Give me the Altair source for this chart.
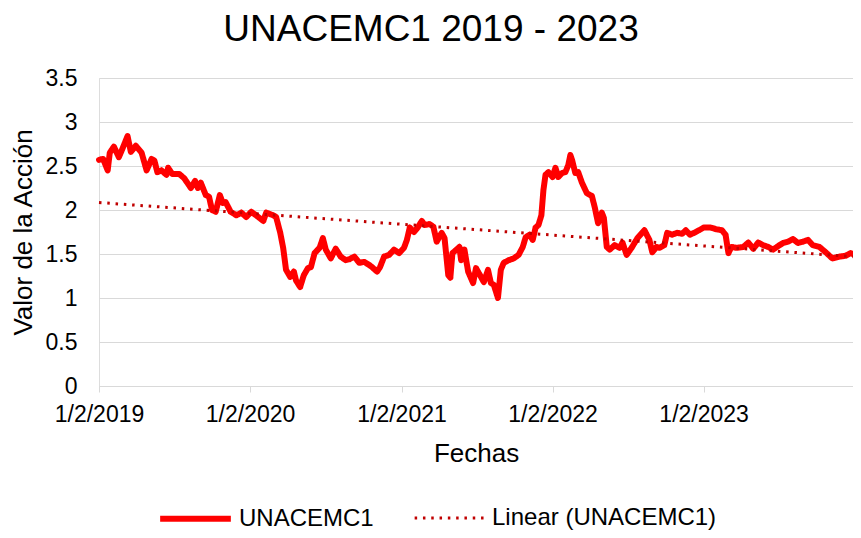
import altair as alt
import pandas as pd

fechas = [
    "2019-01-02", "2019-01-12", "2019-01-23", "2019-01-28", "2019-02-07", "2019-02-19",
    "2019-02-28", "2019-03-12", "2019-03-20", "2019-04-01", "2019-04-15", "2019-04-27",
    "2019-05-09", "2019-05-16", "2019-05-23", "2019-06-02", "2019-06-14", "2019-06-18",
    "2019-06-28", "2019-07-15", "2019-07-27", "2019-08-12", "2019-08-22", "2019-08-29",
    "2019-09-05", "2019-09-17", "2019-09-25", "2019-10-02", "2019-10-11", "2019-10-21",
    "2019-10-28", "2019-11-04", "2019-11-16", "2019-11-30", "2019-12-12", "2019-12-24",
    "2020-01-05", "2020-01-22", "2020-02-03", "2020-02-10", "2020-02-27", "2020-03-05",
    "2020-03-15", "2020-03-22", "2020-03-29", "2020-04-08", "2020-04-17", "2020-04-22",
    "2020-05-02", "2020-05-11", "2020-05-21", "2020-05-28", "2020-06-06", "2020-06-18",
    "2020-06-26", "2020-07-03", "2020-07-15", "2020-07-27", "2020-08-08", "2020-08-20",
    "2020-08-29", "2020-09-10", "2020-09-22", "2020-10-04", "2020-10-16", "2020-10-23",
    "2020-11-04", "2020-11-11", "2020-11-21", "2020-12-03", "2020-12-15", "2020-12-27",
    "2021-01-08", "2021-01-15", "2021-01-22", "2021-02-01", "2021-02-10", "2021-02-20",
    "2021-02-27", "2021-03-11", "2021-03-20", "2021-03-28", "2021-04-09", "2021-04-16",
    "2021-04-25", "2021-04-30", "2021-05-05", "2021-05-15", "2021-05-22", "2021-05-26",
    "2021-06-03", "2021-06-12", "2021-06-24", "2021-07-01", "2021-07-13", "2021-07-20",
    "2021-07-30", "2021-08-06", "2021-08-13", "2021-08-23", "2021-08-30", "2021-09-06",
    "2021-09-18", "2021-09-30", "2021-10-12", "2021-10-22", "2021-10-29", "2021-11-08",
    "2021-11-15", "2021-11-22", "2021-11-29", "2021-12-06", "2021-12-11", "2021-12-16",
    "2021-12-23", "2022-01-02", "2022-01-09", "2022-01-16", "2022-01-25", "2022-02-02",
    "2022-02-09", "2022-02-14", "2022-02-18", "2022-02-26", "2022-03-05", "2022-03-14",
    "2022-03-26", "2022-04-07", "2022-04-14", "2022-04-22", "2022-05-01", "2022-05-06",
    "2022-05-13", "2022-05-20", "2022-06-01", "2022-06-13", "2022-06-20", "2022-06-30",
    "2022-07-12", "2022-07-26", "2022-08-12", "2022-08-24", "2022-08-31", "2022-09-10",
    "2022-09-17", "2022-09-29", "2022-10-06", "2022-10-18", "2022-10-30", "2022-11-11",
    "2022-11-20", "2022-11-30", "2022-12-10", "2022-12-22", "2023-01-02", "2023-01-19",
    "2023-02-03", "2023-02-15", "2023-02-24", "2023-03-03", "2023-03-10", "2023-03-22",
    "2023-04-08", "2023-04-20", "2023-05-02", "2023-05-14", "2023-05-26", "2023-06-07",
    "2023-06-19", "2023-07-01", "2023-07-13", "2023-07-25", "2023-08-06", "2023-08-18",
    "2023-08-30", "2023-09-11", "2023-09-23", "2023-10-09", "2023-10-24", "2023-11-09",
    "2023-11-26", "2023-12-11", "2023-12-23", "2023-12-29",
]

valores = [
    2.57, 2.58, 2.45, 2.65, 2.72, 2.60,
    2.70, 2.84, 2.66, 2.73, 2.65, 2.45,
    2.58, 2.56, 2.43, 2.45, 2.40, 2.48,
    2.41, 2.41, 2.36, 2.25, 2.33, 2.25,
    2.31, 2.17, 2.15, 2.00, 1.98, 2.17,
    2.08, 2.09, 1.98, 1.94, 1.97, 1.92,
    1.98, 1.92, 1.875, 1.97, 1.94, 1.92,
    1.74, 1.57, 1.32, 1.24, 1.30, 1.20,
    1.125, 1.26, 1.34, 1.35, 1.51, 1.57,
    1.68, 1.55, 1.45, 1.56, 1.47, 1.43,
    1.44, 1.47, 1.40, 1.41, 1.375, 1.35,
    1.30, 1.35, 1.47, 1.49, 1.55, 1.51,
    1.57, 1.66, 1.80, 1.75, 1.80, 1.875,
    1.83, 1.84, 1.81, 1.64, 1.74, 1.68,
    1.26, 1.23, 1.51, 1.55, 1.58, 1.43,
    1.55, 1.30, 1.17, 1.34, 1.24, 1.18,
    1.32, 1.17, 1.15, 1.00, 1.32, 1.40,
    1.43, 1.45, 1.49, 1.58, 1.69, 1.72,
    1.66, 1.80, 1.83, 1.94, 2.23, 2.40,
    2.43, 2.375, 2.48, 2.375, 2.42, 2.43,
    2.51, 2.625, 2.57, 2.42, 2.43, 2.31,
    2.19, 2.16, 2.03, 1.85, 1.97, 1.91,
    1.58, 1.55, 1.60, 1.57, 1.63, 1.49,
    1.57, 1.68, 1.77, 1.66, 1.52, 1.58,
    1.57, 1.60, 1.74, 1.72, 1.74, 1.73,
    1.77, 1.72, 1.74, 1.77, 1.80, 1.80,
    1.78, 1.77, 1.72, 1.51, 1.58, 1.57,
    1.58, 1.63, 1.56, 1.63, 1.60, 1.58,
    1.55, 1.59, 1.625, 1.64, 1.67, 1.625,
    1.64, 1.66, 1.60, 1.58, 1.52, 1.45,
    1.47, 1.48, 1.51, 1.50,
]

tendencia_fechas = ["2019-01-02", "2023-12-29"]
tendencia_valores = [2.085, 1.47]

serie_principal = "UNACEMC1"
serie_tendencia = "Linear (UNACEMC1)"
tick_fechas = [(2019, 1, 2), (2020, 1, 2), (2021, 1, 2), (2022, 1, 2), (2023, 1, 2)]

df = pd.DataFrame({"fecha": fechas, "valor": valores, "serie": serie_principal})
df_t = pd.DataFrame({"fecha": tendencia_fechas, "valor": tendencia_valores, "serie": serie_tendencia})

FONT = "Liberation Sans"

x_enc = alt.X(
    "fecha:T",
    scale=alt.Scale(
        type="utc",
        domain=[alt.DateTime(year=2019, month=1, date=2, utc=True),
                alt.DateTime(year=2023, month=12, date=29, utc=True)],
    ),
    axis=alt.Axis(
        title="Fechas",
        values=[alt.DateTime(year=y, month=m, date=d, utc=True) for (y, m, d) in tick_fechas],
        labelExpr="utcFormat(datum.value, '%-m/%-d/%Y')",
        grid=False,
        domain=True,
        domainColor="#d9d9d9",
        domainWidth=1,
        ticks=True,
        tickColor="#d9d9d9",
        tickSize=6,
        labelPadding=11,
        labelFontSize=23,
        labelColor="#000000",
        labelFont=FONT,
        titleFont=FONT,
        titleFontSize=26,
        titleFontWeight="normal",
        titleColor="#000000",
        titlePadding=14,
        labelOverlap=False,
        labelFlush=False,
    ),
)

y_enc = alt.Y(
    "valor:Q",
    scale=alt.Scale(domain=[0, 3.5], nice=False, zero=True),
    axis=alt.Axis(
        title="Valor de la Acción",
        values=[0, 0.5, 1, 1.5, 2, 2.5, 3, 3.5],
        format="~g",
        grid=True,
        gridColor="#d9d9d9",
        gridWidth=1,
        domain=False,
        ticks=False,
        labelPadding=22,
        labelFontSize=23,
        labelColor="#000000",
        labelFont=FONT,
        titleFont=FONT,
        titleFontSize=26,
        titleFontWeight="normal",
        titleColor="#000000",
        titlePadding=9,
    ),
)

dominio = [serie_principal, serie_tendencia]
leyenda = alt.Legend(
    title=None,
    orient="none",
    legendX=58,
    legendY=402,
    direction="horizontal",
    symbolType="stroke",
    symbolSize=5000,
    labelFontSize=24,
    labelFont=FONT,
    labelColor="#000000",
    labelOffset=5,
    columnPadding=34,
    labelLimit=400,
)

color_enc = alt.Color("serie:N", scale=alt.Scale(domain=dominio, range=["#ff0000", "#c00000"]), legend=leyenda)
dash_enc = alt.StrokeDash("serie:N", scale=alt.Scale(domain=dominio, range=[[1, 0], [2.5, 5.8]]), legend=leyenda)
width_enc = alt.StrokeWidth("serie:N", scale=alt.Scale(domain=dominio, range=[6, 3]), legend=leyenda)

principal = alt.Chart(df).mark_line(strokeJoin="round", strokeCap="round").encode(
    x=x_enc, y=y_enc, color=color_enc, strokeDash=dash_enc, strokeWidth=width_enc
)
tendencia = alt.Chart(df_t).mark_line().encode(
    x=x_enc, y=y_enc, color=color_enc, strokeDash=dash_enc, strokeWidth=width_enc
)

chart = alt.layer(principal, tendencia).properties(
    width=754,
    height=308,
    autosize=alt.AutoSizeParams(type="none"),
    padding={"left": 91, "top": 70, "right": 0, "bottom": 144},
    title=alt.TitleParams(
        "UNACEMC1 2019 - 2023",
        fontSize=37,
        fontWeight="normal",
        font=FONT,
        color="#000000",
        anchor="middle",
        dx=-45,
        offset=18,
    ),
).configure_view(stroke=None).configure(font=FONT)

chart.save("out.html", embed_options={"renderer": "svg", "actions": False})
